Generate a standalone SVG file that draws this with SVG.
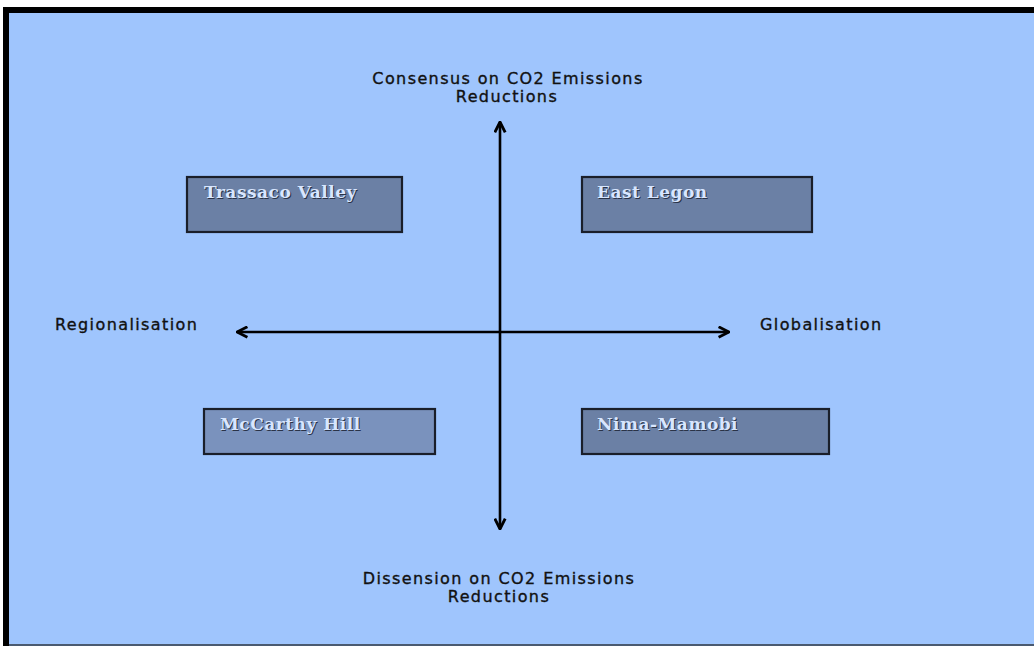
<svg xmlns="http://www.w3.org/2000/svg" width="1034" height="646" viewBox="0 0 1034 646">
<defs>
<style>
.axis{stroke:#000;stroke-width:2.6;fill:none}
.lbl{font-family:"DejaVu Sans","Liberation Sans",sans-serif;font-size:16px;fill:#111;stroke:#111;stroke-width:0.35;letter-spacing:1.4px}
.box{stroke:#1a1f2a;stroke-width:2.2}
.bt{font-family:"DejaVu Serif","Liberation Serif",serif;font-weight:bold;font-size:17px;fill:#d8e6ff;letter-spacing:0.5px}
.sh{font-family:"DejaVu Serif","Liberation Serif",serif;font-weight:bold;font-size:17px;fill:#2a3347;letter-spacing:0.5px}
</style>
<marker id="ah" viewBox="0 0 10 10" refX="9" refY="5" markerWidth="5" markerHeight="5" orient="auto-start-reverse">
<path d="M1,1 L9,5 L1,9" fill="none" stroke="#000" stroke-width="2.2"/>
</marker>
</defs>
<rect x="0" y="0" width="1034" height="646" fill="#ffffff"/>
<rect x="6" y="10" width="1034" height="640" fill="#9fc5fd" stroke="#000" stroke-width="6"/>
<line x1="9" y1="645" x2="1034" y2="645" stroke="#4a5a70" stroke-width="2"/>
<g id="connectors">
<line class="axis" x1="500" y1="529" x2="500" y2="122" marker-start="url(#ah)" marker-end="url(#ah)"/>
<line class="axis" x1="237" y1="332" x2="729" y2="332" marker-start="url(#ah)" marker-end="url(#ah)"/>
</g>
<g id="label-top">
<text class="lbl" x="508" y="84" text-anchor="middle">Consensus on CO2 Emissions</text>
<text class="lbl" x="507" y="102" text-anchor="middle">Reductions</text>
</g>
<g id="label-bottom">
<text class="lbl" x="499" y="584" text-anchor="middle">Dissension on CO2 Emissions</text>
<text class="lbl" x="499" y="602" text-anchor="middle">Reductions</text>
</g>
<g id="label-left"><text class="lbl" x="55" y="330">Regionalisation</text></g>
<g id="label-right"><text class="lbl" x="760" y="330">Globalisation</text></g>
<g id="trassaco">
<rect class="box" x="187" y="177" width="215" height="55" fill="#6b80a5"/>
<text class="sh" x="205" y="199">Trassaco Valley</text>
<text class="bt" x="204" y="198">Trassaco Valley</text>
</g>
<g id="eastlegon">
<rect class="box" x="582" y="177" width="230" height="55" fill="#6b80a5"/>
<text class="sh" x="598" y="199">East Legon</text>
<text class="bt" x="597" y="198">East Legon</text>
</g>
<g id="mccarthy">
<rect class="box" x="204" y="409" width="231" height="45" fill="#7a92bd"/>
<text class="sh" x="221" y="431">McCarthy Hill</text>
<text class="bt" x="220" y="430">McCarthy Hill</text>
</g>
<g id="nima">
<rect class="box" x="582" y="409" width="247" height="45" fill="#6b80a5"/>
<text class="sh" x="598" y="431">Nima-Mamobi</text>
<text class="bt" x="597" y="430">Nima-Mamobi</text>
</g>
</svg>
